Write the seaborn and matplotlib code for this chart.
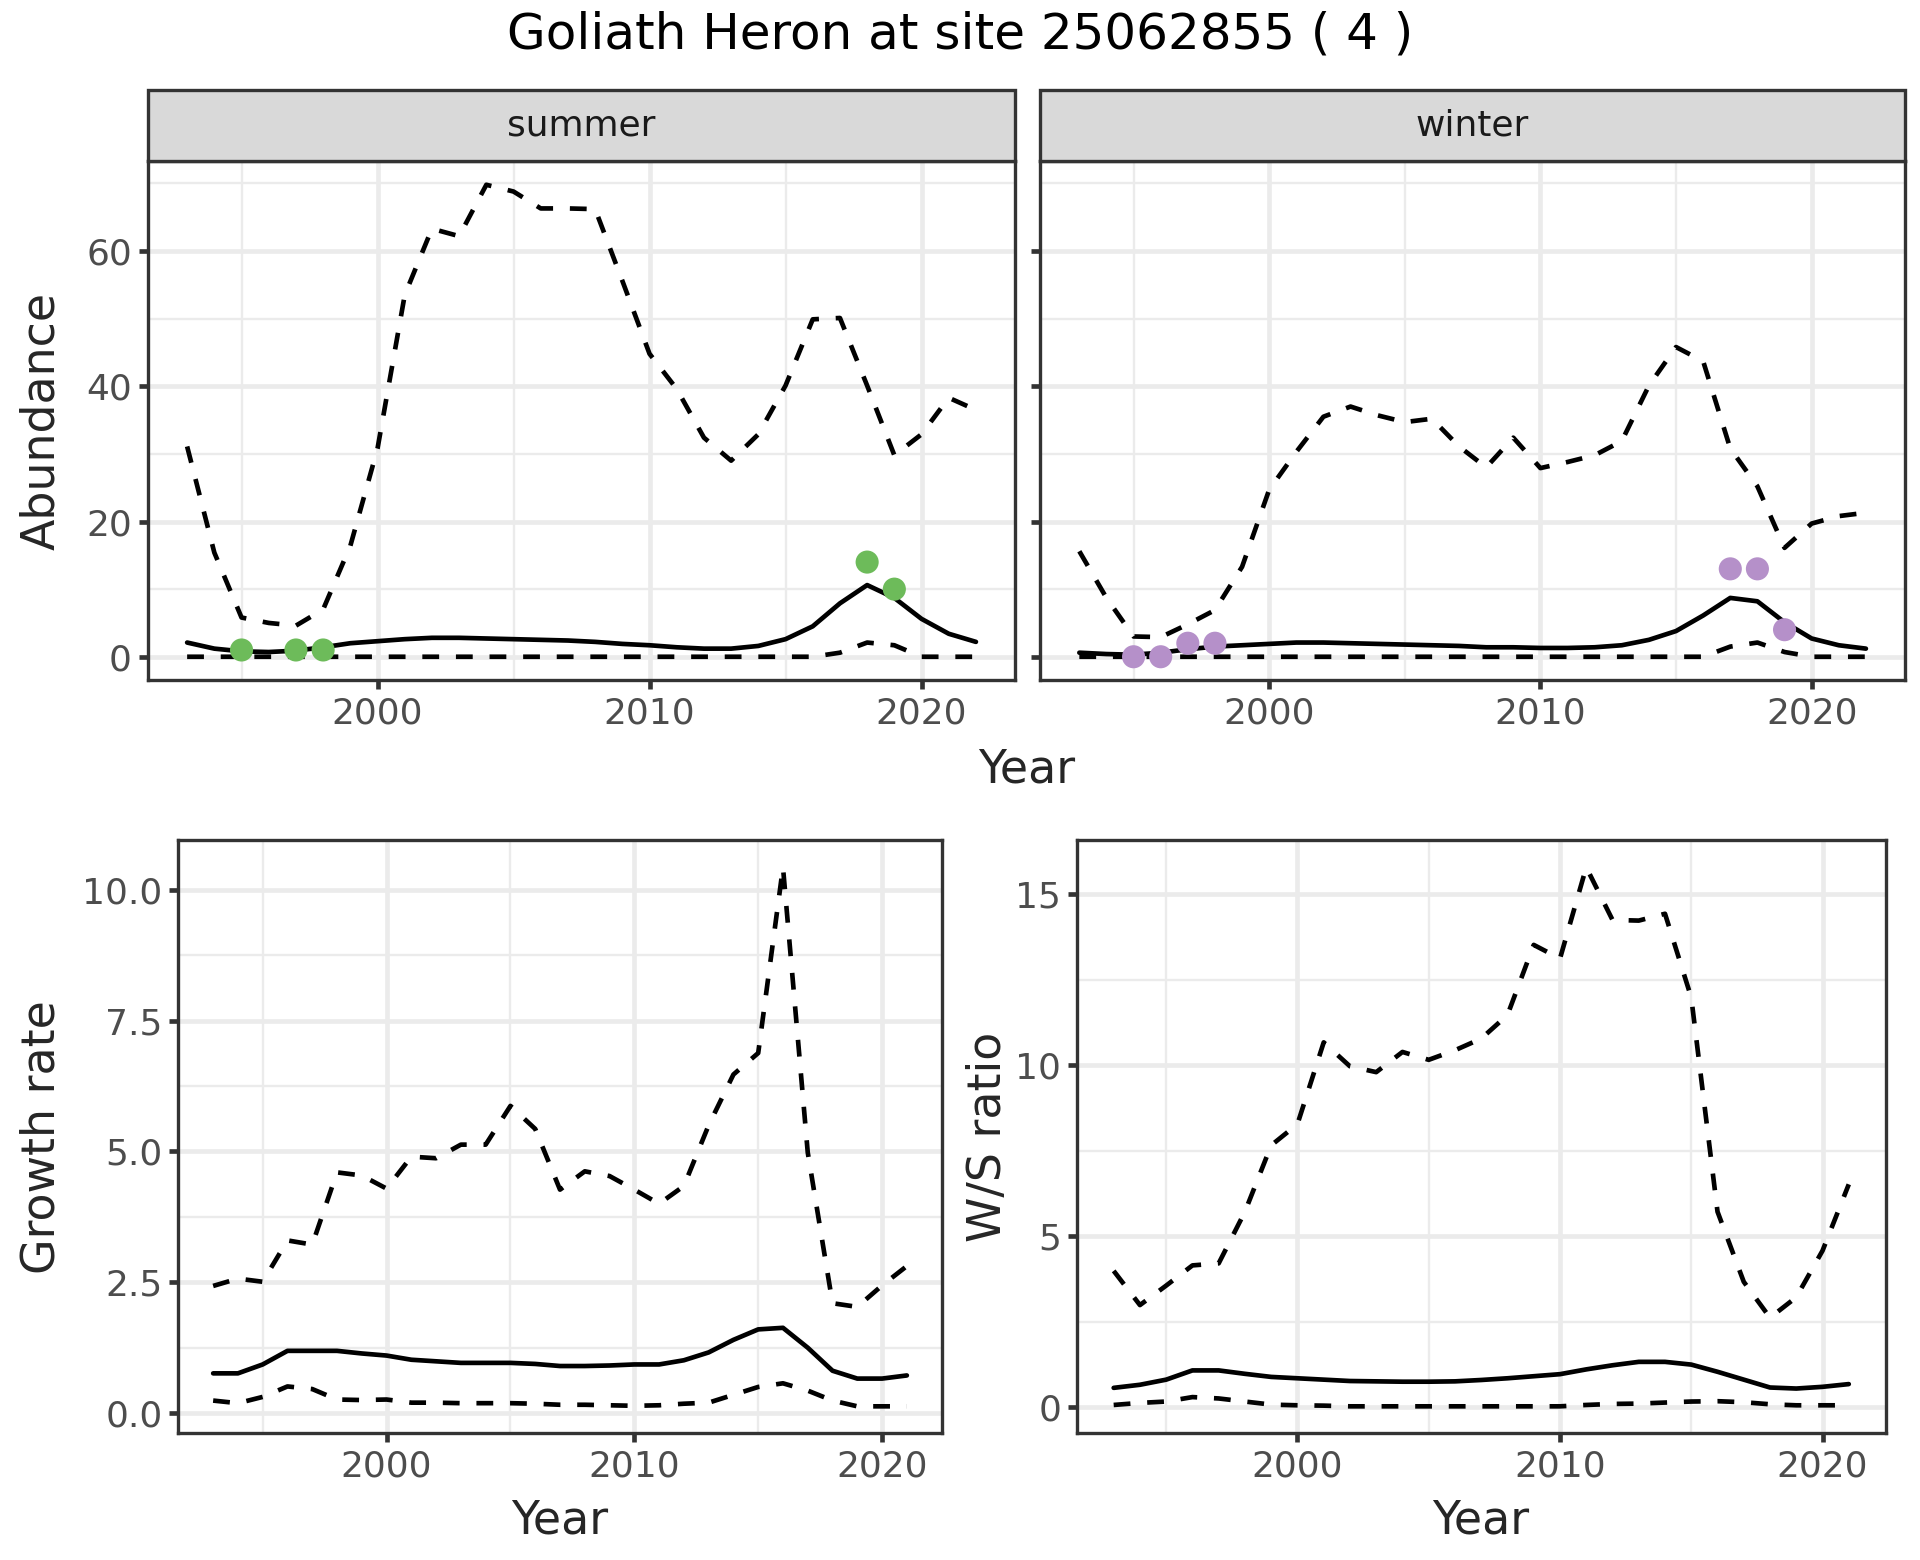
import numpy as np
import pandas as pd
import matplotlib
matplotlib.use("Agg")
import matplotlib.pyplot as plt
from matplotlib.ticker import FixedLocator
from matplotlib.patches import Rectangle
import seaborn as sns

sns.set_theme(style="white")
plt.rcParams['font.family'] = ['DejaVu Sans']

# ---------------- data ----------------
years_ab = list(range(1993, 2023))
summer_upper = [31.1, 15.4, 5.8, 5.0, 4.6, 7.0, 16.4, 30.8, 53.5, 63.3, 62.2, 69.8, 68.8, 66.3,
                66.3, 66.2, 55.6, 44.8, 39.6, 32.4, 29.0, 32.9, 40.1, 49.9, 50.1, 40.1, 29.8,
                32.9, 38.3, 36.5]
summer_mean = [2.1, 1.2, 0.8, 0.7, 0.9, 1.4, 2.0, 2.3, 2.6, 2.8, 2.8, 2.7, 2.6, 2.5, 2.4, 2.2,
               1.9, 1.7, 1.4, 1.2, 1.2, 1.6, 2.6, 4.5, 7.9, 10.6, 8.7, 5.6, 3.4, 2.2]
summer_lower = [0, 0, 0, 0, 0, 0, 0, 0, 0, 0, 0, 0, 0, 0, 0, 0, 0, 0, 0, 0, 0, 0, 0, 0, 0.6,
                2.1, 1.7, 0, 0, 0]
winter_upper = [15.6, 8.7, 3.0, 2.9, 4.8, 6.9, 13.3, 24.7, 30.3, 35.5, 37.0, 35.7, 34.7, 35.2,
                31.1, 28.0, 32.4, 27.9, 28.8, 29.8, 31.9, 40.1, 45.8, 43.7, 30.8, 25.2, 16.1,
                19.7, 20.8, 21.3]
winter_mean = [0.6, 0.4, 0.3, 0.6, 1.1, 1.5, 1.7, 1.9, 2.1, 2.1, 2.0, 1.9, 1.8, 1.7, 1.6, 1.4,
               1.4, 1.3, 1.3, 1.4, 1.7, 2.5, 3.8, 6.1, 8.7, 8.2, 5.1, 2.7, 1.7, 1.2]
winter_lower = [0, 0, 0, 0, 0, 0, 0, 0, 0, 0, 0, 0, 0, 0, 0, 0, 0, 0, 0, 0, 0, 0, 0, 0, 1.5,
                2.1, 0.7, 0, 0, 0]

summer_obs_years = [1995, 1997, 1998, 2018, 2019]
summer_obs = [1, 1, 1, 14, 10]
winter_obs_years = [1995, 1996, 1997, 1998, 2017, 2018, 2019]
winter_obs = [0, 0, 2, 2, 13, 13, 4]

years_gr = list(range(1993, 2022))
growth_upper = [2.43, 2.57, 2.51, 3.30, 3.22, 4.60, 4.54, 4.29, 4.90, 4.87, 5.13, 5.13, 5.87,
                5.43, 4.27, 4.62, 4.53, 4.27, 4.00, 4.34, 5.50, 6.47, 6.88, 10.43, 4.98, 2.10,
                2.03, 2.44, 2.81]
growth_mean = [0.76, 0.76, 0.93, 1.19, 1.19, 1.19, 1.14, 1.10, 1.02, 0.99, 0.96, 0.96, 0.96,
               0.94, 0.90, 0.90, 0.91, 0.93, 0.93, 1.01, 1.16, 1.40, 1.60, 1.63, 1.25, 0.81,
               0.66, 0.66, 0.72]
growth_lower = [0.24, 0.19, 0.31, 0.51, 0.46, 0.26, 0.25, 0.26, 0.20, 0.20, 0.19, 0.19, 0.19,
                0.18, 0.16, 0.16, 0.15, 0.14, 0.15, 0.18, 0.20, 0.35, 0.50, 0.57, 0.43, 0.24,
                0.13, 0.13, 0.13]

ws_upper = [3.99, 2.99, 3.56, 4.15, 4.21, 5.72, 7.66, 8.28, 10.67, 9.97, 9.80, 10.39, 10.16,
            10.44, 10.78, 11.47, 13.52, 13.12, 15.79, 14.25, 14.23, 14.43, 11.98, 5.72, 3.67,
            2.62, 3.22, 4.58, 6.52]
ws_mean = [0.57, 0.66, 0.81, 1.08, 1.08, 0.98, 0.89, 0.85, 0.81, 0.77, 0.76, 0.75, 0.75, 0.76,
           0.80, 0.85, 0.91, 0.97, 1.11, 1.23, 1.33, 1.33, 1.25, 1.04, 0.81, 0.58, 0.55, 0.60,
           0.68]
ws_lower = [0.07, 0.13, 0.17, 0.30, 0.26, 0.17, 0.08, 0.06, 0.05, 0.03, 0.03, 0.03, 0.03, 0.03,
            0.03, 0.03, 0.03, 0.03, 0.07, 0.10, 0.11, 0.14, 0.17, 0.18, 0.15, 0.09, 0.06, 0.06,
            0.06]

title = "Goliath Heron at site 25062855 ( 4 )"
facet_labels = ["summer", "winter"]

# ---------------- style ----------------
LW = 1.4
DASH = (0, (3.6, 3.6))
GRID = "#EBEBEB"
BORDER = "#333333"
TICKLAB = "#4D4D4D"
GREEN = "#6DBB5A"
PURPLE = "#B590C9"
TICK_FS = 10.8
TITLE_FS = 13.75
MAIN_FS = 15

W, H = 1560.0, 1268.0


def box(x0, y0, x1, y1):
    return [x0 / W, 1 - y1 / H, (x1 - x0) / W, (y1 - y0) / H]


fig = plt.figure(figsize=(8, 6.5), dpi=240)

ax_s = fig.add_axes(box(120, 131, 825, 553))
ax_w = fig.add_axes(box(845, 131, 1548, 553))
ax_g = fig.add_axes(box(145, 683, 765, 1165))
ax_r = fig.add_axes(box(875, 683, 1532, 1165))


def style_axis(ax, xmaj, xmin, ymaj, ymin, show_ylabels=True):
    ax.set_facecolor("white")
    ax.xaxis.set_major_locator(FixedLocator(xmaj))
    ax.xaxis.set_minor_locator(FixedLocator(xmin))
    ax.yaxis.set_major_locator(FixedLocator(ymaj))
    ax.yaxis.set_minor_locator(FixedLocator(ymin))
    ax.grid(True, which="major", color=GRID, lw=LW, zorder=0)
    ax.grid(True, which="minor", color=GRID, lw=LW / 2, zorder=0)
    ax.set_axisbelow(True)
    for sp in ax.spines.values():
        sp.set_color(BORDER)
        sp.set_linewidth(1.0)
        sp.set_visible(True)
    ax.tick_params(which="major", length=2.75, width=LW, color=BORDER, labelcolor=TICKLAB,
                   labelsize=TICK_FS, pad=2.0, left=True, bottom=True)
    ax.tick_params(which="minor", length=0)
    if not show_ylabels:
        ax.tick_params(axis="y", labelleft=False)
    ax.set_xlabel("")
    ax.set_ylabel("")


def expand(vals, frac=0.05):
    lo, hi = min(vals), max(vals)
    r = hi - lo
    return lo - frac * r, hi + frac * r


def draw_lines(ax, years, upper, mean, lower):
    sns.lineplot(x=years, y=upper, ax=ax, color="black", lw=LW, linestyle=DASH,
                 errorbar=None, zorder=3)
    sns.lineplot(x=years, y=mean, ax=ax, color="black", lw=LW, errorbar=None, zorder=3)
    sns.lineplot(x=years, y=lower, ax=ax, color="black", lw=LW, linestyle=DASH,
                 errorbar=None, zorder=3)


# abundance panels
draw_lines(ax_s, years_ab, summer_upper, summer_mean, summer_lower)
sns.scatterplot(x=summer_obs_years, y=summer_obs, ax=ax_s, color=GREEN, s=48,
                edgecolor="none", zorder=4)
draw_lines(ax_w, years_ab, winter_upper, winter_mean, winter_lower)
sns.scatterplot(x=winter_obs_years, y=winter_obs, ax=ax_w, color=PURPLE, s=48,
                edgecolor="none", zorder=4)

all_ab = summer_upper + summer_lower + winter_upper + winter_lower + summer_obs + winter_obs
ylim_ab = expand(all_ab)
xlim_ab = expand(years_ab)
for ax, show in ((ax_s, True), (ax_w, False)):
    style_axis(ax, [2000, 2010, 2020], [1995, 2005, 2015],
               [0, 20, 40, 60], [10, 30, 50, 70], show_ylabels=show)
    ax.set_xlim(*xlim_ab)
    ax.set_ylim(*ylim_ab)

# growth rate
draw_lines(ax_g, years_gr, growth_upper, growth_mean, growth_lower)
style_axis(ax_g, [2000, 2010, 2020], [1995, 2005, 2015],
           [0, 2.5, 5, 7.5, 10], [1.25, 3.75, 6.25, 8.75])
ax_g.set_yticklabels(["0.0", "2.5", "5.0", "7.5", "10.0"])
ax_g.set_xlim(*expand(years_gr))
ax_g.set_ylim(*expand(growth_upper + growth_lower))

# W/S ratio
draw_lines(ax_r, years_gr, ws_upper, ws_mean, ws_lower)
style_axis(ax_r, [2000, 2010, 2020], [1995, 2005, 2015],
           [0, 5, 10, 15], [2.5, 7.5, 12.5])
ax_r.set_xlim(*expand(years_gr))
ax_r.set_ylim(*expand(ws_upper + ws_lower))

for ax in (ax_s, ax_w, ax_g, ax_r):
    leg = ax.get_legend()
    if leg is not None:
        leg.remove()

# facet strips
for ax, lab in ((ax_s, facet_labels[0]), (ax_w, facet_labels[1])):
    pos = ax.get_position()
    sh = 58 / H
    rect = Rectangle((pos.x0, pos.y1), pos.width, sh, transform=fig.transFigure,
                     facecolor="#D9D9D9", edgecolor=BORDER, lw=1.0, zorder=5)
    fig.add_artist(rect)
    fig.text(pos.x0 + pos.width / 2, pos.y1 + sh / 2, lab, ha="center", va="center",
             fontsize=TICK_FS, color="#1A1A1A", zorder=6)

# titles & axis labels
fig.text(0.5, 1 - 28 / H, title, ha="center", va="center", fontsize=MAIN_FS, color="black")
fig.text(834 / W, 1 - 626 / H, "Year", ha="center", va="center", fontsize=TITLE_FS)
fig.text(34 / W, 1 - 342 / H, "Abundance", ha="center", va="center", rotation=90,
         fontsize=TITLE_FS)
fig.text(455 / W, 1 - 1236 / H, "Year", ha="center", va="center", fontsize=TITLE_FS)
fig.text(34 / W, 1 - 924 / H, "Growth rate", ha="center", va="center", rotation=90,
         fontsize=TITLE_FS)
fig.text(1203 / W, 1 - 1236 / H, "Year", ha="center", va="center", fontsize=TITLE_FS)
fig.text(803 / W, 1 - 924 / H, "W/S ratio", ha="center", va="center", rotation=90,
         fontsize=TITLE_FS)

fig.savefig("out.png", dpi=240, facecolor="white")
